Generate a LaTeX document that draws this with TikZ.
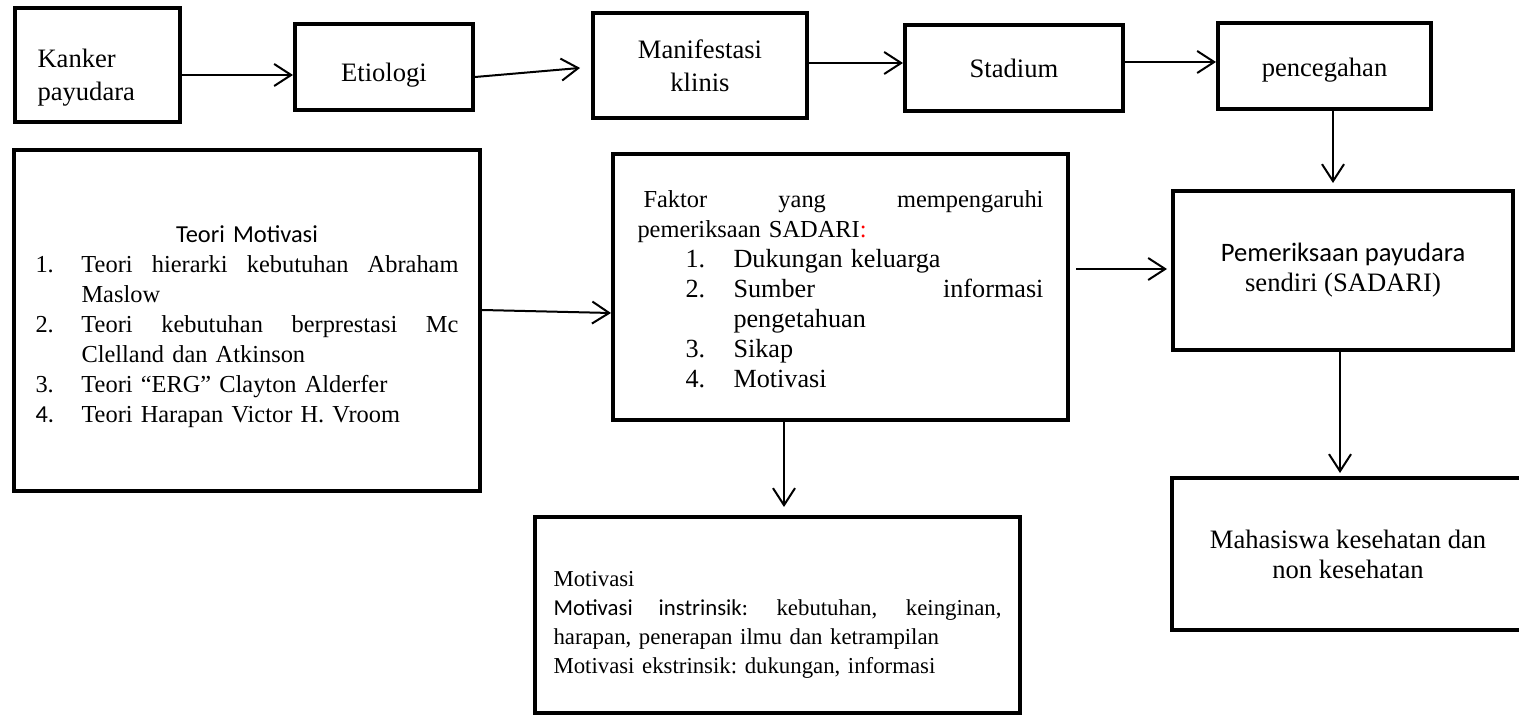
\documentclass[tikz,border=0pt]{standalone}
\usepackage{fontspec}
\setmainfont{Liberation Serif}
\setsansfont{Carlito}
\usepackage{xcolor}
\usetikzlibrary{arrows.meta}
\usetikzlibrary{calc}
\frenchspacing

\newcommand{\numitem}[2]{\makebox[#1][l]{#2}}
\newcommand{\justline}[2]{{\spaceskip=0pt\xspaceskip=0pt\makebox[#1][s]{#2}}}

\begin{document}
\begin{tikzpicture}
[x=0.5pt,y=-0.5pt,
  boxdecorate/.style={shape=rectangle,draw,line width=2pt,inner sep=0pt,align=center,%
    font=\fontsize{12.2}{15}\selectfont},
  topdecorate/.style={boxdecorate,font=\fontsize{13.3}{16.5}\selectfont},
  bigdecorate/.style={boxdecorate,font=\fontsize{13.3}{15}\selectfont},
  linedecorate/.style={-{Straight Barb[length=8.5pt,width=11pt,line width=1pt]},line width=1pt}]
\useasboundingbox (0,0) rectangle (1519,716);
%% top row
\node (Kanker) at (97.5,65) [topdecorate,minimum width=82.5pt,minimum height=57pt,
  text width=60pt,align=left] {\rule{0pt}{21.4pt}Kanker\\payudara};
\node (Etiologi) at (384,67) [topdecorate,minimum width=89pt,minimum height=43pt,
  text height=18pt,text depth=3pt] {Etiologi};
\foreach \nodename/\x/\y/\w/\h/\txt in {Manifestasi/700/65.5/107/52.5/{Manifestasi\\klinis},
  Stadium/1014/68/109/43/Stadium, pencegahan/1324.5/66/106.5/43/{\rule{0pt}{13pt}pencegahan}}
{
  \node (\nodename) at (\x,\y) [topdecorate,minimum width=\w pt,minimum height=\h pt] {\txt};
}
%% middle row
\node (TeoriMotivasi) at (247,320.5) [boxdecorate,minimum width=233pt,minimum height=170.5pt,
  text width=211.5pt,align=left] {%
  \rule{0pt}{15pt}\makebox[211.5pt]{\sffamily Teori Motivasi}\\
  \numitem{23pt}{1.}\justline{188.5pt}{Teori hierarki kebutuhan Abraham}\\
  \hspace*{23pt}Maslow\\
  \numitem{23pt}{2.}\justline{188.5pt}{Teori kebutuhan berprestasi Mc}\\
  \hspace*{23pt}Clelland dan Atkinson\\
  \numitem{23pt}{3.}Teori “ERG” Clayton Alderfer\\
  \numitem{23pt}{\sffamily 4.}Teori Harapan Victor H. Vroom};
\node (Faktor) at (840.5,287) [boxdecorate,minimum width=227.5pt,minimum height=133pt,
  text width=203pt,align=left] {%
  \rule{0pt}{11pt}\hspace*{3pt}\justline{200pt}{Faktor yang mempengaruhi}\\
  pemeriksaan SADARI\textcolor{red}{:}\\
  \fontsize{13.1}{15}\selectfont
  \hspace*{24pt}\numitem{24pt}{1.}Dukungan keluarga\\
  \hspace*{24pt}\numitem{24pt}{2.}\justline{155pt}{Sumber informasi}\\
  \hspace*{48pt}pengetahuan\\
  \hspace*{24pt}\numitem{24pt}{3.}Sikap\\
  \hspace*{24pt}\numitem{24pt}{4.}Motivasi};
\node (SADARI) at (1343,270.5) [bigdecorate,minimum width=170pt,minimum height=79.5pt]
  {{\sffamily Pemeriksaan payudara}\\sendiri (SADARI)};
%% bottom row
\node (Motivasi) at (777.5,615) [boxdecorate,minimum width=242.5pt,minimum height=98pt,
  text width=224pt,align=left,font=\fontsize{11.4}{14.5}\selectfont] {%
  \rule{0pt}{17.8pt}Motivasi\\
  \justline{224pt}{{\sffamily Motivasi instrinsik:} kebutuhan, keinginan,}\\
  harapan, penerapan ilmu dan ketrampilan\\
  Motivasi ekstrinsik: dukungan, informasi};
\node (Mahasiswa) at (1348,554) [bigdecorate,minimum width=176pt,minimum height=76pt]
  {Mahasiswa kesehatan dan\\non kesehatan};
%% arrows
\draw[linedecorate] ([yshift=-5pt]Kanker.east) -- ([yshift=-4pt]Etiologi.west);
\draw[linedecorate,shorten >=5.5pt] ([yshift=-5pt]Etiologi.east) -- ([yshift=-0.75pt]Manifestasi.west);
\draw[linedecorate] ([yshift=1.25pt]Manifestasi.east) -- ([yshift=2.5pt]Stadium.west);
\draw[linedecorate] ([yshift=3pt]Stadium.east) -- ([yshift=2pt]pencegahan.west);
\draw[linedecorate,shorten >=3pt] ([xshift=4.25pt]pencegahan.south) -- ([xshift=-5pt]SADARI.north);
\draw[linedecorate] ([yshift=5.25pt]TeoriMotivasi.east) -- ([yshift=-13pt]Faktor.west);
\draw[linedecorate,shorten <=3pt,shorten >=2pt] ([yshift=9pt]Faktor.east) -- ([yshift=0.75pt]SADARI.west);
\draw[linedecorate,shorten >=4pt] ([xshift=-28.25pt]Faktor.south) -- ([xshift=3.25pt]Motivasi.north);
\draw[linedecorate,shorten >=1.5pt] ([xshift=-1.5pt]SADARI.south) -- ([xshift=-4pt]Mahasiswa.north);
\end{tikzpicture}
\end{document}
